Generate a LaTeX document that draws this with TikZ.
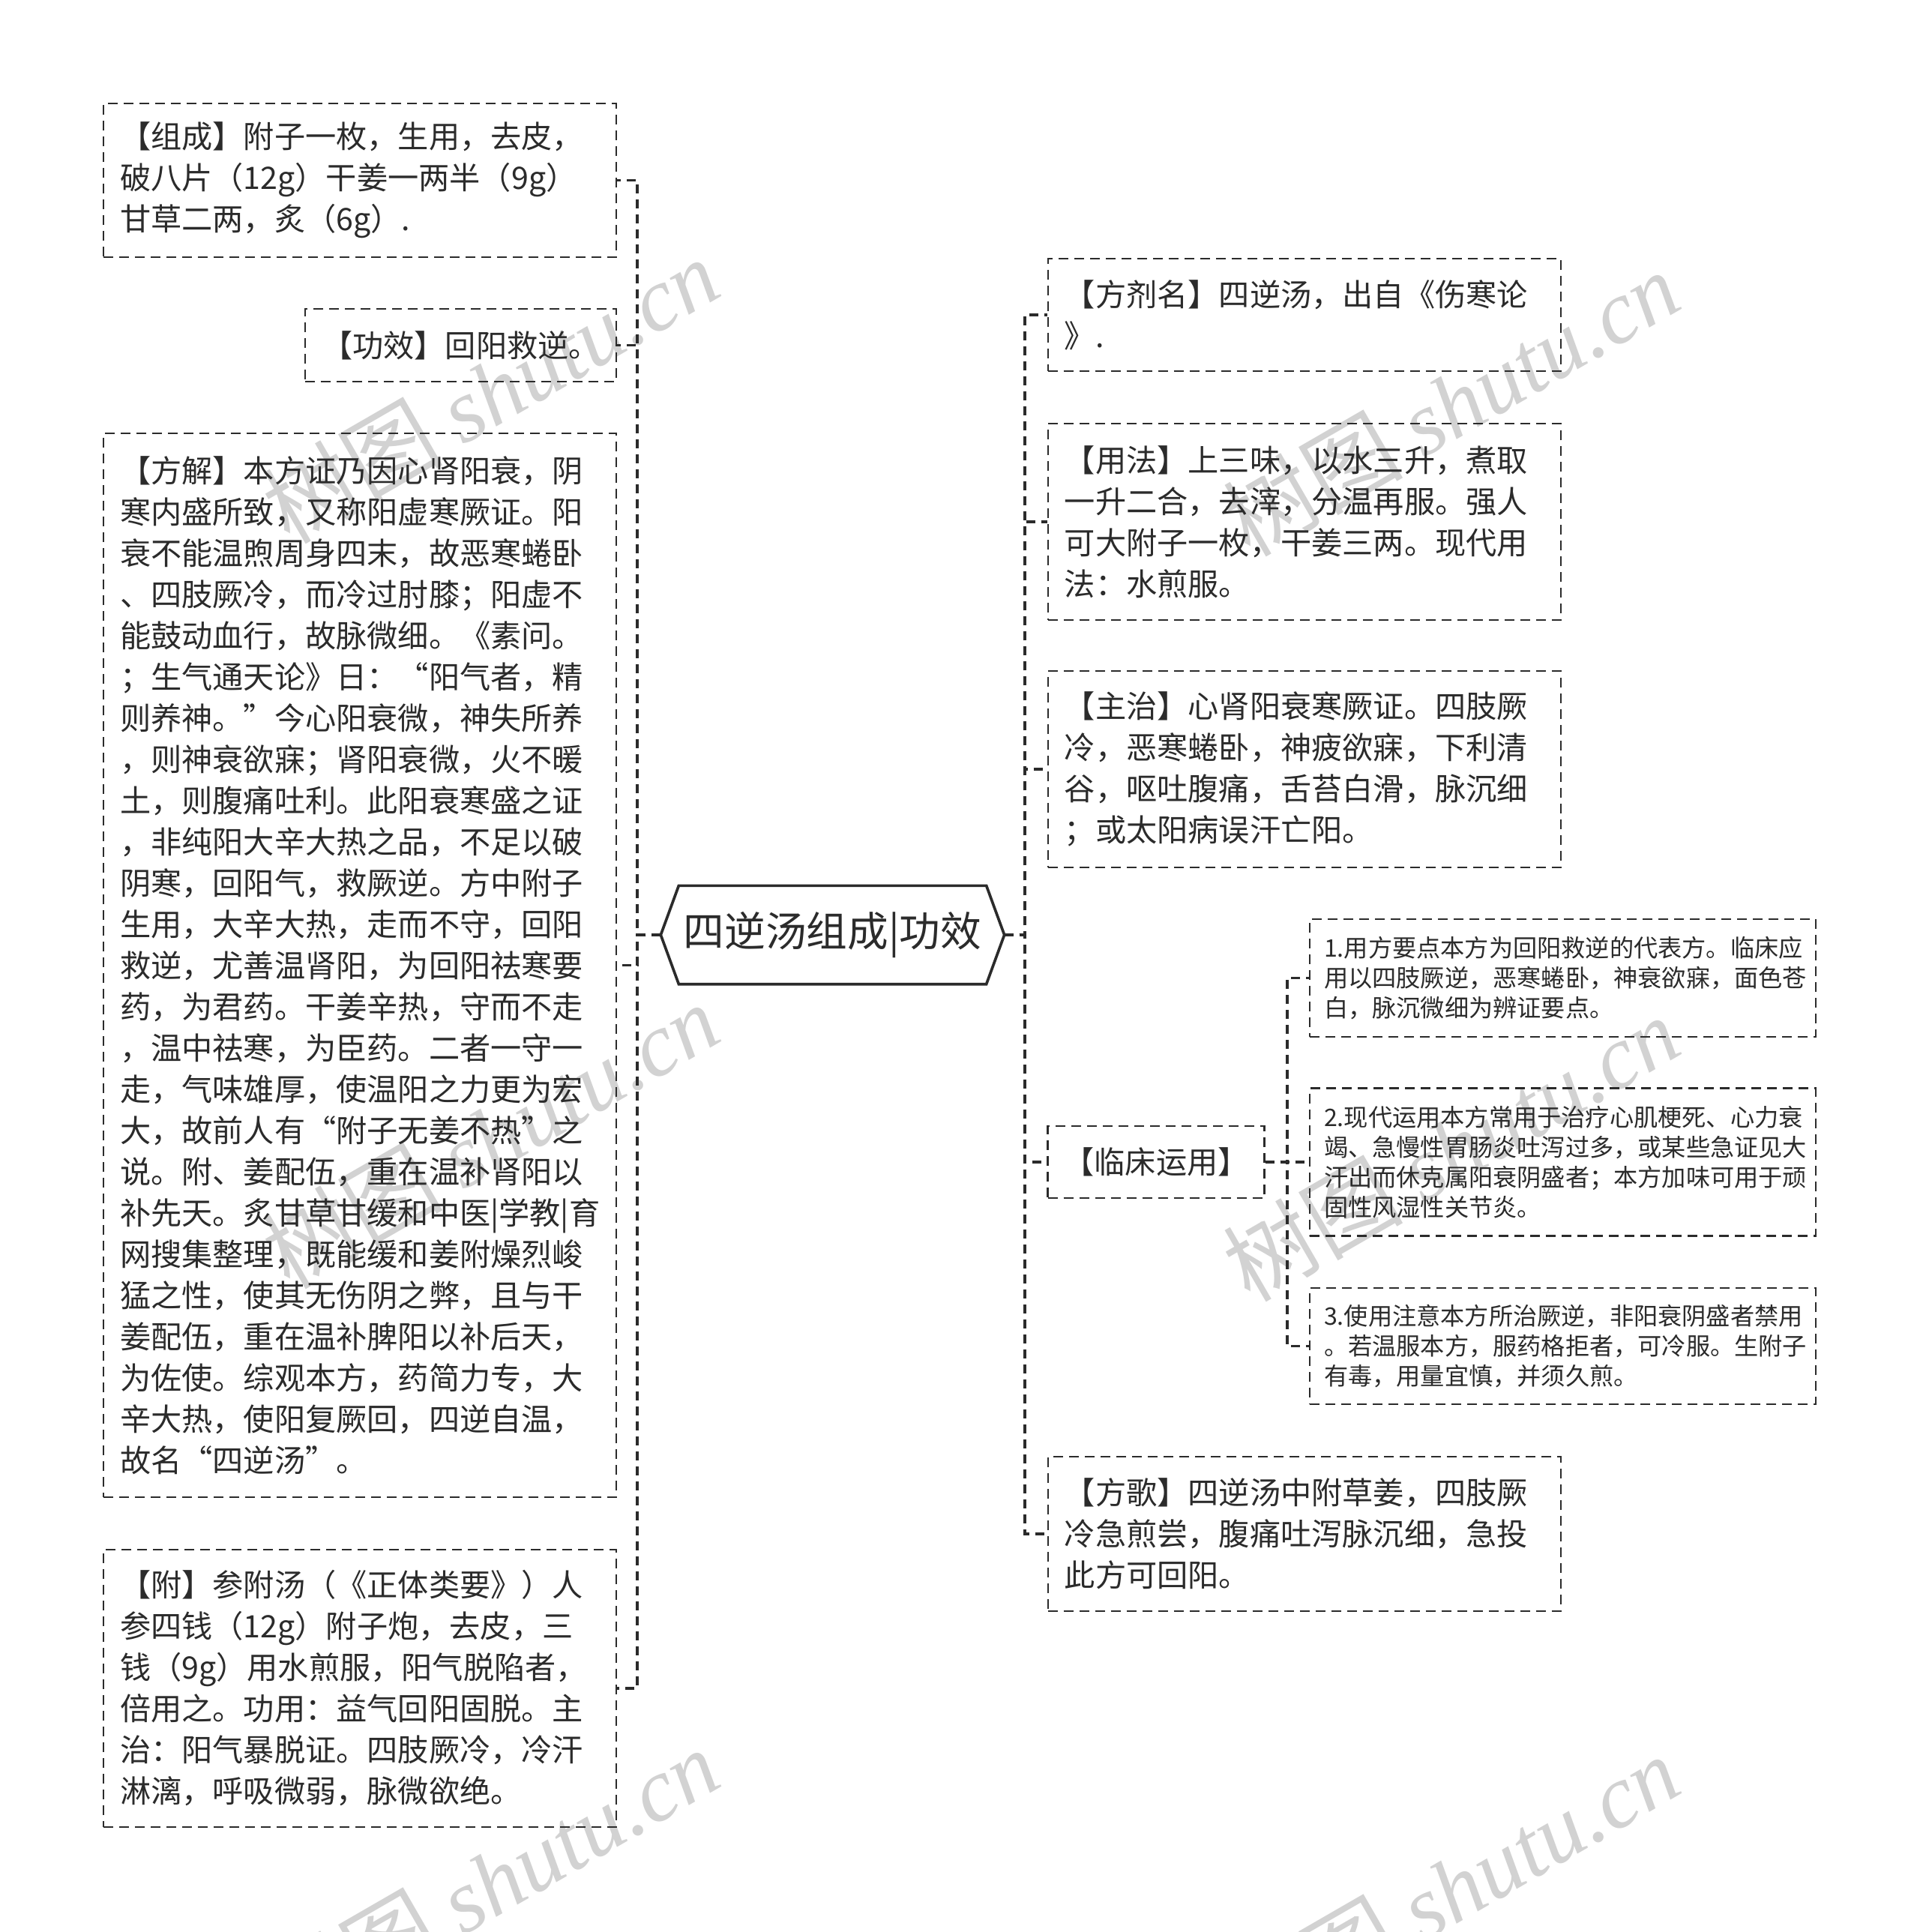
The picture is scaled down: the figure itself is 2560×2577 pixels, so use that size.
\documentclass[tikz,border=0pt]{standalone}
\usepackage{fontspec}
\setmainfont{Noto Sans CJK SC}
\newfontfamily\wmfont{Liberation Serif}
\usetikzlibrary{calc}
\definecolor{textc}{HTML}{2B2B2B}
\definecolor{linec}{HTML}{2B2B2B}
\definecolor{wmc}{HTML}{D2D2D2}
\newcommand\mainfs{\fontsize{12.36pt}{16.5pt}\selectfont}
\newcommand\subfs{\fontsize{9.66pt}{12pt}\selectfont}
\newcommand\rootfs{\fontsize{16.4pt}{19pt}\selectfont}
\tikzset{
  conn/.style={draw=linec, line width=1.15pt, dash pattern=on 3.6pt off 2.4pt},
  tbox/.style={draw=linec, line width=0.7pt, dash pattern=on 3.9pt off 2.4pt,
    text=textc, align=left, inner ysep=0pt, font=\mainfs},
  lbox/.style={tbox, minimum width=205.2pt, text width=192pt, inner xsep=6.6pt},
  sbox/.style={tbox, font=\subfs, minimum width=202.5pt, text width=191.1pt, inner xsep=5.7pt},
  cbox/.style={tbox, align=center, inner xsep=0pt},
  wm/.style={text=wmc, font=\fontsize{36pt}{40pt}\selectfont, rotate=30, anchor=east, inner sep=0pt},
  rootnode/.style={text=textc, font=\rootfs, inner sep=0pt, minimum width=122.7pt, minimum height=39pt},
  hexa/.style={draw=linec, line width=1.1pt}
}
\begin{document}
\begin{tikzpicture}[x=0.3pt,y=-0.3pt]
\useasboundingbox[fill=white] (0,0) rectangle (2560,2577);

% watermarks
\node[wm] (wm1) at (945,353) {树图 {\wmfont\itshape shutu.cn}};
\node[wm] (wm2) at (2226,370) {树图 {\wmfont\itshape shutu.cn}};
\node[wm] (wm3) at (945,1347) {树图 {\wmfont\itshape shutu.cn}};
\node[wm] (wm4) at (2226,1364) {树图 {\wmfont\itshape shutu.cn}};
\node[wm] (wm5) at (945,2341) {树图 {\wmfont\itshape shutu.cn}};
\node[wm] (wm6) at (2226,2350) {树图 {\wmfont\itshape shutu.cn}};

% root
\node[rootnode] (root) at (1110.5,1247) {四逆汤组成|功效};
\coordinate (rootL) at ($(root.west)+(-24,0)$);
\coordinate (rootR) at ($(root.east)+(24,0)$);
\draw[hexa] (root.north west) -- (root.north east) -- (rootR) -- (root.south east)
  -- (root.south west) -- (rootL) -- cycle;

% left boxes
\node[lbox, minimum height=61.5pt] (zucheng) at (480,240.5) {%
【组成】附子一枚，生用，去皮，\\
破八片（12g）干姜一两半（9g）\\
甘草二两，炙（6g）.};
\node[cbox, minimum width=124.5pt, minimum height=29.1pt] (gongxiao) at (614.5,460.5) {【功效】回阳救逆。};
\node[lbox, minimum height=425.7pt] (fangjie) at (480,1287.5) {%
【方解】本方证乃因心肾阳衰，阴\\
寒内盛所致，又称阳虚寒厥证。阳\\
衰不能温煦周身四末，故恶寒蜷卧\\
、四肢厥冷，而冷过肘膝；阳虚不\\
能鼓动血行，故脉微细。《素问。\\
；生气通天论》日：“阳气者，精\\
则养神。”今心阳衰微，神失所养\\
，则神衰欲寐；肾阳衰微，火不暖\\
土，则腹痛吐利。此阳衰寒盛之证\\
，非纯阳大辛大热之品，不足以破\\
阴寒，回阳气，救厥逆。方中附子\\
生用，大辛大热，走而不守，回阳\\
救逆，尤善温肾阳，为回阳祛寒要\\
药，为君药。干姜辛热，守而不走\\
，温中祛寒，为臣药。二者一守一\\
走，气味雄厚，使温阳之力更为宏\\
大，故前人有“附子无姜不热”之\\
说。附、姜配伍，重在温补肾阳以\\
补先天。炙甘草甘缓和中医|学教|育\\
网搜集整理，既能缓和姜附燥烈峻\\
猛之性，使其无伤阴之弊，且与干\\
姜配伍，重在温补脾阳以补后天，\\
为佐使。综观本方，药简力专，大\\
辛大热，使阳复厥回，四逆自温，\\
故名“四逆汤”。};
\node[lbox, minimum height=111pt] (fu) at (480,2252) {%
【附】参附汤（《正体类要》）人\\
参四钱（12g）附子炮，去皮，三\\
钱（9g）用水煎服，阳气脱陷者，\\
倍用之。功用：益气回阳固脱。主\\
治：阳气暴脱证。四肢厥冷，冷汗\\
淋漓，呼吸微弱，脉微欲绝。};

% right boxes
\node[lbox, minimum height=45pt] (fangjiming) at (1739.8,420) {%
【方剂名】四逆汤，出自《伤寒论\\
》.};
\node[lbox, minimum height=78.6pt] (yongfa) at (1739.8,696) {%
【用法】上三味，以水三升，煮取\\
一升二合，去滓，分温再服。强人\\
可大附子一枚，干姜三两。现代用\\
法：水煎服。};
\node[lbox, minimum height=78.6pt] (zhuzhi) at (1739.8,1026) {%
【主治】心肾阳衰寒厥证。四肢厥\\
冷，恶寒蜷卧，神疲欲寐，下利清\\
谷，呕吐腹痛，舌苔白滑，脉沉细\\
；或太阳病误汗亡阳。};
\node[cbox, minimum width=86.7pt, minimum height=28.8pt] (linchuang) at (1542,1550) {【临床运用】};
\node[lbox, minimum height=61.8pt] (fangge) at (1739.8,2046) {%
【方歌】四逆汤中附草姜，四肢厥\\
冷急煎尝，腹痛吐泻脉沉细，急投\\
此方可回阳。};

% sub boxes
\node[sbox, minimum height=47.1pt] (s1) at (2084.5,1304.5) {%
1.用方要点本方为回阳救逆的代表方。临床应\\
用以四肢厥逆，恶寒蜷卧，神衰欲寐，面色苍\\
白，脉沉微细为辨证要点。};
\node[sbox, minimum height=59.1pt] (s2) at (2084.5,1550) {%
2.现代运用本方常用于治疗心肌梗死、心力衰\\
竭、急慢性胃肠炎吐泻过多，或某些急证见大\\
汗出而休克属阳衰阴盛者；本方加味可用于顽\\
固性风湿性关节炎。};
\node[sbox, minimum height=46.5pt] (s3) at (2084.5,1795.5) {%
3.使用注意本方所治厥逆，非阳衰阴盛者禁用\\
。若温服本方，服药格拒者，可冷服。生附子\\
有毒，用量宜慎，并须久煎。};

% connectors left
\draw[conn] (rootL) -- ++(-31,0) |- (zucheng.east);
\draw[conn] (rootL) -- ++(-31,0) |- (gongxiao.east);
\draw[conn] (rootL) -- ++(-31,0) |- (fangjie.east);
\draw[conn] (rootL) -- ++(-31,0) |- (fu.east);
% connectors right
\draw[conn] (rootR) -- ++(27,0) |- (fangjiming.west);
\draw[conn] (rootR) -- ++(27,0) |- (yongfa.west);
\draw[conn] (rootR) -- ++(27,0) |- (zhuzhi.west);
\draw[conn] (rootR) -- ++(27,0) |- (linchuang.west);
\draw[conn] (rootR) -- ++(27,0) |- (fangge.west);
% sub connectors
\draw[conn] (linchuang.east) -- ++(29,0) |- (s1.west);
\draw[conn] (linchuang.east) -- ++(29,0) |- (s2.west);
\draw[conn] (linchuang.east) -- ++(29,0) |- (s3.west);
\end{tikzpicture}
\end{document}
